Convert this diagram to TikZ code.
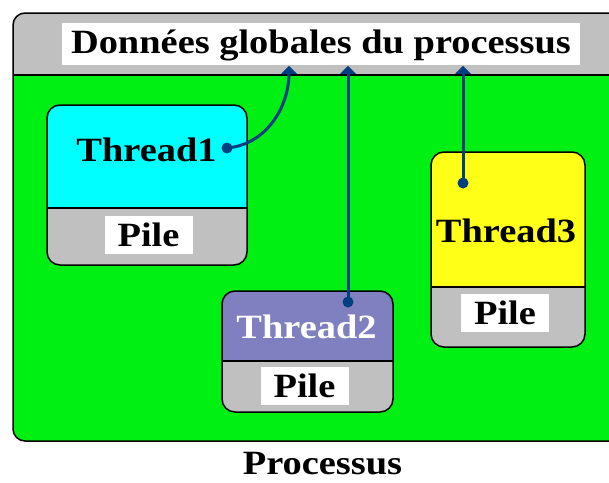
\documentclass[tikz,border=0pt]{standalone}
\usepackage{fontspec}
\setmainfont{Liberation Serif}[FakeStretch=1.13]
\usetikzlibrary{arrows.meta}
\definecolor{vertfond}{RGB}{0,240,20}
\definecolor{grisfond}{RGB}{192,192,192}
\definecolor{cyanthread}{RGB}{0,255,255}
\definecolor{bleuthread}{RGB}{128,128,192}
\definecolor{jaunethread}{RGB}{255,255,24}
\definecolor{bleulien}{RGB}{0,64,128}

\begin{document}
\begin{tikzpicture}[x=1pt, y=-1pt, line width=1.5pt,
  texte/.style={font=\fontsize{34}{38}\selectfont\bfseries, inner sep=0pt,
    text height=23pt, text depth=0pt},
  pile/.style={texte, fill=white, minimum width=88pt, minimum height=38pt},
  lien/.style={draw=bleulien, line width=3pt, -{Triangle[width=15pt,length=8pt]}},
  point/.style={circle, fill=bleulien, inner sep=0pt, minimum size=11pt}]
\useasboundingbox (0,0) rectangle (609,482);
\begin{scope}
\clip (0,0) rectangle (609,482);
% processus
\fill[vertfond, rounded corners=12] (13,13) rectangle (640,441);
\fill[grisfond, rounded corners=12] (13,75) -- (13,13) -- (640,13) -- (640,75);
\draw[rounded corners=12] (13,13) rectangle (640,441);
\draw (13,75) -- (640,75);
\end{scope}
\node[texte, fill=white, minimum width=518pt, minimum height=42pt, text depth=5pt]
  (titre) at (321,44) {Données globales du processus};
\node[texte] (proc) at (322.5,463) {Processus};
% thread 1
\fill[grisfond, rounded corners=13] (47,105) rectangle (247,265);
\fill[cyanthread, rounded corners=13] (47,208) -- (47,105) -- (247,105) -- (247,208);
\draw[rounded corners=13] (47,105) rectangle (247,265);
\draw (47,208) -- (247,208);
\node[texte] (t1) at (146.5,150) {Thread1};
\node[pile] (p1) at (148.5,234.5) {Pile};
% thread 2
\fill[grisfond, rounded corners=13] (222,291) rectangle (393,412);
\fill[bleuthread, rounded corners=13] (222,361) -- (222,291) -- (393,291) -- (393,361);
\draw[rounded corners=13] (222,291) rectangle (393,412);
\draw (222,361) -- (393,361);
\node[texte, text=white] (t2) at (306.5,326.5) {Thread2};
\node[pile] (p2) at (304.5,385.5) {Pile};
% thread 3
\fill[grisfond, rounded corners=13] (431,152) rectangle (585,347);
\fill[jaunethread, rounded corners=13] (431,287) -- (431,152) -- (585,152) -- (585,287);
\draw[rounded corners=13] (431,152) rectangle (585,347);
\draw (431,287) -- (585,287);
\node[texte] (t3) at (506,230.5) {Thread3};
\node[pile] (p3) at (505,313) {Pile};
% liens vers les donnees globales
\node[point] (d1) at (227,148) {};
\node[point] (d2) at (348,302) {};
\node[point] (d3) at (463,183) {};
\coordinate (a1) at (289,0);
\draw[lien] (d1.center) to[out=5,in=-90] (a1 |- titre.south);
\draw[lien] (d2.center) -- (d2 |- titre.south);
\draw[lien] (d3.center) -- (d3 |- titre.south);
\end{tikzpicture}
\end{document}
